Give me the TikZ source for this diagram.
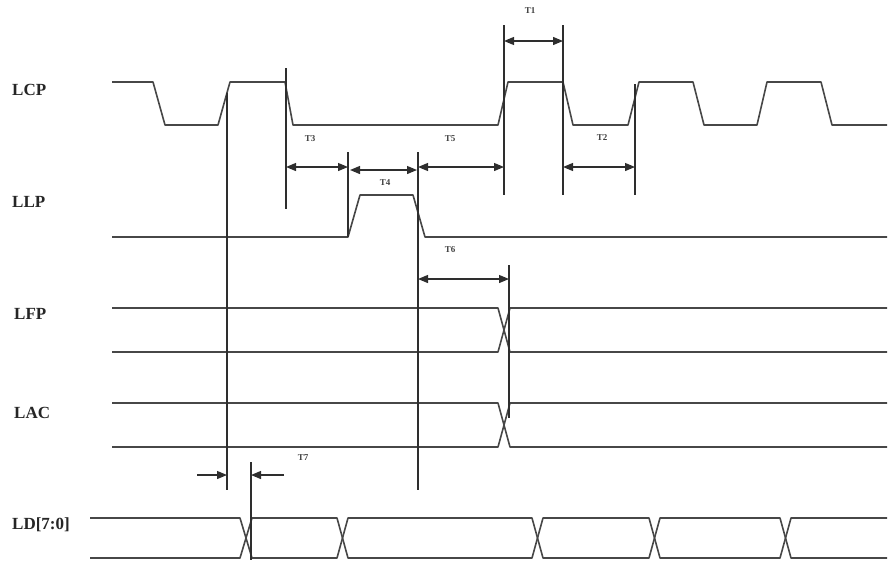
\documentclass[tikz,border=0pt]{standalone}
\usepackage{fontspec}
\setmainfont{Liberation Serif}
\usetikzlibrary{arrows.meta}
\begin{document}
\begin{tikzpicture}[x=1pt,y=-1pt,
  sig/.style={line width=1.6pt, draw=black!72, line join=round},
  guide/.style={line width=1.5pt, draw=black!82},
  dimarrow/.style={line width=1.2pt, draw=black!82, {Triangle[length=10pt,width=8pt]}-{Triangle[length=10pt,width=8pt]}},
  onearrow/.style={line width=1.2pt, draw=black!82, -{Triangle[length=10pt,width=8pt]}},
  siglabel/.style={font=\bfseries\fontsize{17}{17}\selectfont, text=black!85, anchor=west, inner sep=0pt},
  tlabel/.style={font=\bfseries\fontsize{9}{9}\selectfont, text=black!75, inner sep=0pt}]
\useasboundingbox (0,0) rectangle (890,565);

% signal names
\node[siglabel] (nLCP) at (12,90) {LCP};
\node[siglabel] (nLLP) at (12,202) {LLP};
\node[siglabel] (nLFP) at (14,314) {LFP};
\node[siglabel] (nLAC) at (14,413) {LAC};
\node[siglabel] (nLD) at (12,525) {LD[7:0]};

% LCP
\draw[sig] (112,82) -- (153,82) -- (165,125) -- (218,125) -- (230,82) -- (285,82) -- (293,125)
  -- (498,125) -- (508,82) -- (563,82) -- (573,125) -- (628,125) -- (639,82) -- (693,82)
  -- (704,125) -- (757,125) -- (767,82) -- (821,82) -- (832,125) -- (887,125);
% LLP
\draw[sig] (112,237) -- (348,237) -- (360,195) -- (413,195) -- (425,237) -- (887,237);
% LFP
\draw[sig] (112,308) -- (498,308) -- (510,352) -- (887,352);
\draw[sig] (112,352) -- (498,352) -- (510,308) -- (887,308);
% LAC
\draw[sig] (112,403) -- (498,403) -- (510,447) -- (887,447);
\draw[sig] (112,447) -- (498,447) -- (510,403) -- (887,403);
% LD[7:0]
\draw[sig] (90,518) -- (240,518) -- (252,558) -- (337,558) -- (348,518) -- (532,518) -- (543,558)
  -- (649,558) -- (660,518) -- (780,518) -- (791,558) -- (887,558);
\draw[sig] (90,558) -- (240,558) -- (252,518) -- (337,518) -- (348,558) -- (532,558) -- (543,518)
  -- (649,518) -- (660,558) -- (780,558) -- (791,518) -- (887,518);

% guide lines
\coordinate (g1t) at (227,93);  \coordinate (g1b) at (227,490);
\coordinate (g2t) at (286,68);  \coordinate (g2b) at (286,209);
\coordinate (g3t) at (348,152); \coordinate (g3b) at (348,237);
\coordinate (g4t) at (418,152); \coordinate (g4b) at (418,490);
\coordinate (g5t) at (504,25);  \coordinate (g5b) at (504,195);
\coordinate (g6t) at (563,25);  \coordinate (g6b) at (563,195);
\coordinate (g7t) at (635,84);  \coordinate (g7b) at (635,195);
\coordinate (g8t) at (509,265); \coordinate (g8b) at (509,418);
\coordinate (g9t) at (251,462); \coordinate (g9b) at (251,560);
\foreach \g in {g1,g2,g3,g4,g5,g6,g7,g8,g9}
  \draw[guide] (\g t) -- (\g b);

% dimension arrows
\coordinate (t1a) at (504,41);  \coordinate (t1b) at (563,41);
\coordinate (t3a) at (286,167); \coordinate (t3b) at (348,167);
\coordinate (t4a) at (350,170); \coordinate (t4b) at (417,170);
\coordinate (t5a) at (418,167); \coordinate (t5b) at (504,167);
\coordinate (t2a) at (563,167); \coordinate (t2b) at (635,167);
\coordinate (t6a) at (418,279); \coordinate (t6b) at (509,279);
\coordinate (t7a) at (197,475); \coordinate (t7b) at (227,475);
\coordinate (t7c) at (284,475); \coordinate (t7d) at (251,475);
\draw[dimarrow] (t1a) -- (t1b);
\draw[dimarrow] (t3a) -- (t3b);
\draw[dimarrow] (t4a) -- (t4b);
\draw[dimarrow] (t5a) -- (t5b);
\draw[dimarrow] (t2a) -- (t2b);
\draw[dimarrow] (t6a) -- (t6b);
\draw[onearrow] (t7a) -- (t7b);
\draw[onearrow] (t7c) -- (t7d);

% timing labels
\node[tlabel] (lT1) at (530,11) {T1};
\node[tlabel] (lT3) at (310,139) {T3};
\node[tlabel] (lT4) at (385,183) {T4};
\node[tlabel] (lT5) at (450,139) {T5};
\node[tlabel] (lT2) at (602,138) {T2};
\node[tlabel] (lT6) at (450,250) {T6};
\node[tlabel] (lT7) at (303,458) {T7};
\end{tikzpicture}
\end{document}
